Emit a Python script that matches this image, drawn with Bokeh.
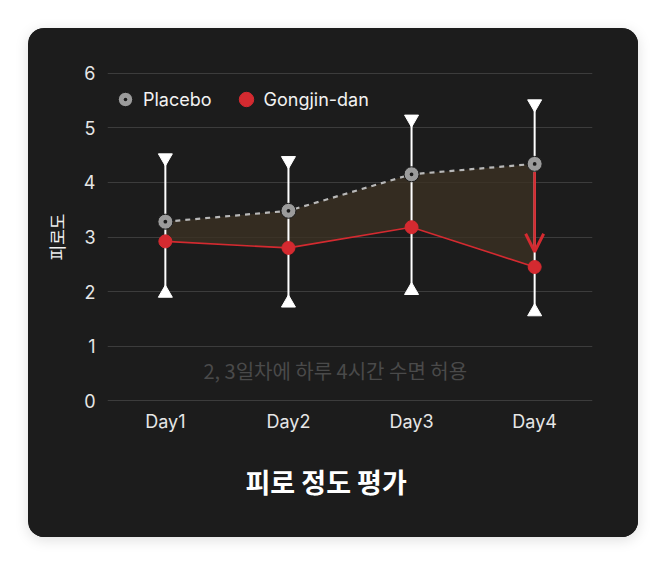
from bokeh.plotting import figure
from bokeh.models import (Range1d, FixedTicker, Legend, LegendItem, Label, Title,
                          Arrow, OpenHead, ColumnDataSource)
from bokeh.embed import file_html
from bokeh.resources import INLINE

# ---- data ----
days = ["Day1", "Day2", "Day3", "Day4"]
placebo = [3.28, 3.48, 4.15, 4.34]
gongjin = [2.92, 2.80, 3.18, 2.45]
err_high = [4.45, 4.40, 5.16, 5.44]
err_low = [1.97, 1.79, 2.02, 1.63]
y_ticks = [0, 1, 2, 3, 4, 5, 6]
title_text = "피로 정도 평가"
y_label = "피로도"
note_text = "2, 3일차에 하루 4시간 수면 허용"
series_names = ["Placebo", "Gongjin-dan"]

xs = list(range(len(days)))
BG = "#1c1c1c"
RED = "#d42a30"
GRAY = "#9b9b9b"
LATIN = "Inter"
KR = "Noto Sans CJK KR"

src = ColumnDataSource(dict(x=xs, placebo=placebo, gongjin=gongjin,
                            hi=err_high, lo=err_low))

p = figure(width=610, height=509, output_backend="svg", toolbar_location=None,
           x_range=Range1d(-0.47, 3.47), y_range=Range1d(-0.015, 6.015))
p.margin = (28, 20, 20, 28)
p.styles = {"border-radius": "16px", "overflow": "hidden",
            "background-color": BG,
            "box-shadow": "0 3px 14px rgba(0,0,0,0.13)"}
p.background_fill_color = BG
p.border_fill_color = BG
p.outline_line_color = None
p.min_border_left = 79
p.min_border_right = 46
p.min_border_top = 44
p.min_border_bottom = 136

# axes
p.xaxis.ticker = FixedTicker(ticks=xs)
p.xaxis.major_label_overrides = {i: d for i, d in enumerate(days)}
p.yaxis.ticker = FixedTicker(ticks=y_ticks)
for ax in (p.xaxis[0], p.yaxis[0]):
    ax.axis_line_color = None
    ax.major_tick_line_color = None
    ax.minor_tick_line_color = None
    ax.major_label_text_color = "#e6e6e6"
    ax.major_label_text_font = LATIN
    ax.major_label_text_font_size = "18px"
p.yaxis.major_label_standoff = 6
p.xaxis.major_label_standoff = 3
p.yaxis.axis_label = y_label
p.yaxis.axis_label_text_font = KR
p.yaxis.axis_label_text_font_size = "17px"
p.yaxis.axis_label_text_font_style = "normal"
p.yaxis.axis_label_text_color = "#f0f0f0"
p.yaxis.axis_label_standoff = 12

p.xgrid.visible = False
p.ygrid.grid_line_color = "#3c3c3c"
p.ygrid.grid_line_width = 1

# shaded area between series
p.varea(x="x", y1="gongjin", y2="placebo", source=src,
        fill_color="#3b3122", fill_alpha=0.78)

# lines
p.line(x="x", y="placebo", source=src, line_color="#b8b8b8", line_width=2.2,
       line_dash="5 5")
p.line(x="x", y="gongjin", source=src, line_color=RED, line_width=1.6)

# error bars
p.segment(x0="x", y0="lo", x1="x", y1="hi", source=src, line_color="white",
          line_width=2)
p.scatter(x="x", y="hi", source=src, marker="inverted_triangle", size=14,
          fill_color="white", line_color="white")
p.scatter(x="x", y="lo", source=src, marker="triangle", size=14,
          fill_color="white", line_color="white")

# arrow placebo -> gongjin at last day
last = len(days) - 1
p.add_layout(Arrow(x_start=xs[last], y_start=placebo[last] - 0.15,
                   x_end=xs[last], y_end=gongjin[last] + 0.28,
                   line_color=RED, line_width=2.5,
                   end=OpenHead(size=18, line_color=RED, line_width=3)))

# markers
r_p = p.scatter(x="x", y="placebo", source=src, marker="circle_dot", size=15,
                fill_color=GRAY, line_color="#1a1a1a", line_width=1)
r_g = p.scatter(x="x", y="gongjin", source=src, marker="circle", size=13,
                fill_color=RED, line_color=RED)

legend = Legend(items=[LegendItem(label=series_names[0], renderers=[r_p]),
                       LegendItem(label=series_names[1], renderers=[r_g])],
                orientation="horizontal", location=(0, 284),
                background_fill_alpha=0, border_line_alpha=0,
                label_text_color="#f2f2f2", label_text_font=LATIN,
                label_text_font_size="18px", glyph_width=36, glyph_height=36,
                label_standoff=0, spacing=16, margin=0, padding=0)
p.add_layout(legend)

# note
p.add_layout(Label(x=1.38, y=0.55, text=note_text, text_align="center",
                   text_baseline="middle", text_color="#4a4a4a",
                   text_font=KR, text_font_size="20px"))

# title
t = Title(text=title_text, align="left", offset=138, text_color="#ffffff",
          text_font=KR, text_font_size="27px", text_font_style="bold",
          standoff=51)
p.add_layout(t, "below")

open("out.html", "w").write(file_html(p, INLINE))
